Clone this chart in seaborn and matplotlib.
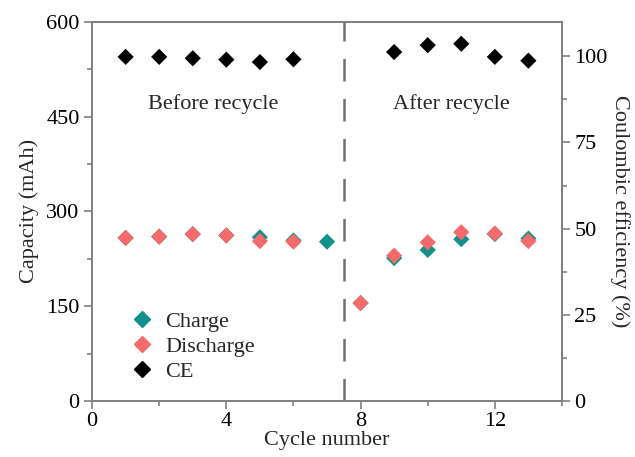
import matplotlib
matplotlib.use("Agg")
import matplotlib.pyplot as plt
from matplotlib.lines import Line2D
from matplotlib.ticker import MultipleLocator
import seaborn as sns
import pandas as pd

# Cycling data before and after recycling
charge_cycles = [1, 2, 3, 4, 5, 6, 7, 8, 9, 10, 11, 12, 13]
charge_capacity = [258, 260, 264, 262, 259, 254, 252, 155, 226, 239, 256, 264, 257]

discharge_cycles = [1, 2, 3, 4, 5, 6, 8, 9, 10, 11, 12, 13]
discharge_capacity = [258, 260, 264, 262, 253, 252, 155, 230, 251, 267, 265, 253]

ce_cycles = [1, 2, 3, 4, 5, 6, 9, 10, 11, 12, 13]
ce_values = [99.8, 99.8, 99.4, 99.0, 98.3, 99.1, 101.2, 103.2, 103.6, 99.8, 98.7]

region_labels = ["Before recycle", "After recycle"]

charge_color = "#12908C"
discharge_color = "#F56A6A"
ce_color = "#000000"
spine_color = "#808080"

sns.set_theme(style="white")
plt.rcParams["font.family"] = ["Liberation Serif", "DejaVu Serif"]

fig = plt.figure(figsize=(6.35, 4.57), dpi=100)
ax = fig.add_axes([0.145, 0.1225, 0.740, 0.830])
ax2 = ax.twinx()

charge_df = pd.DataFrame({"cycle": charge_cycles, "capacity": charge_capacity})
discharge_df = pd.DataFrame({"cycle": discharge_cycles, "capacity": discharge_capacity})
ce_df = pd.DataFrame({"cycle": ce_cycles, "ce": ce_values})

ms = 68
sns.scatterplot(data=charge_df, x="cycle", y="capacity", ax=ax, marker="D",
                s=ms, color=charge_color, edgecolor="none", zorder=3)
sns.scatterplot(data=discharge_df, x="cycle", y="capacity", ax=ax, marker="D",
                s=ms, color=discharge_color, edgecolor="none", zorder=4)
sns.scatterplot(data=ce_df, x="cycle", y="ce", ax=ax2, marker="D",
                s=ms, color=ce_color, edgecolor="none", zorder=3)

# Separator between the two test runs
ax.axvline(7.5, color="#707070", lw=1.8, dashes=(9, 7), zorder=2)

ax.set_xlim(0, 14)
ax.set_ylim(0, 600)
ax2.set_ylim(0, 110)

ax.xaxis.set_major_locator(MultipleLocator(4))
ax.xaxis.set_minor_locator(MultipleLocator(2))
ax.yaxis.set_major_locator(MultipleLocator(150))
ax.yaxis.set_minor_locator(MultipleLocator(75))
ax2.yaxis.set_major_locator(MultipleLocator(25))
ax2.yaxis.set_minor_locator(MultipleLocator(12.5))

fs = 16
for a in (ax, ax2):
    for sp in a.spines.values():
        sp.set_color(spine_color)
        sp.set_linewidth(1.3)
    a.tick_params(which="major", direction="out", length=6, width=1.2,
                  color=spine_color, labelsize=fs, labelcolor="black", pad=3)
    a.tick_params(which="minor", direction="out", length=3.5, width=1.2,
                  color=spine_color)
ax.tick_params(axis="both", which="both", bottom=True, left=True)
ax.tick_params(axis="x", which="major", pad=2)
ax2.tick_params(axis="y", which="both", right=True)

ax.set_xlabel("Cycle number", fontsize=fs, labelpad=0)
ax.set_ylabel("Capacity (mAh)", fontsize=fs, labelpad=5)
ax2.set_ylabel("Coulombic efficiency (%)", fontsize=fs, rotation=270, labelpad=16)

ax.text(3.6, 470, region_labels[0], fontsize=fs, ha="center", va="center")
ax.text(10.7, 470, region_labels[1], fontsize=fs, ha="center", va="center")

handles = [
    Line2D([], [], marker="D", ls="none", color=charge_color, markersize=8),
    Line2D([], [], marker="D", ls="none", color=discharge_color, markersize=8),
    Line2D([], [], marker="D", ls="none", color=ce_color, markersize=8),
]
ax.legend(handles, ["Charge", "Discharge", "CE"], loc="lower left",
          bbox_to_anchor=(0.05, 0.01), frameon=False, fontsize=fs,
          handlelength=1.0, handletextpad=0.55, labelspacing=0.2,
          borderpad=0.2)

fig.savefig("out.png", dpi=100)
